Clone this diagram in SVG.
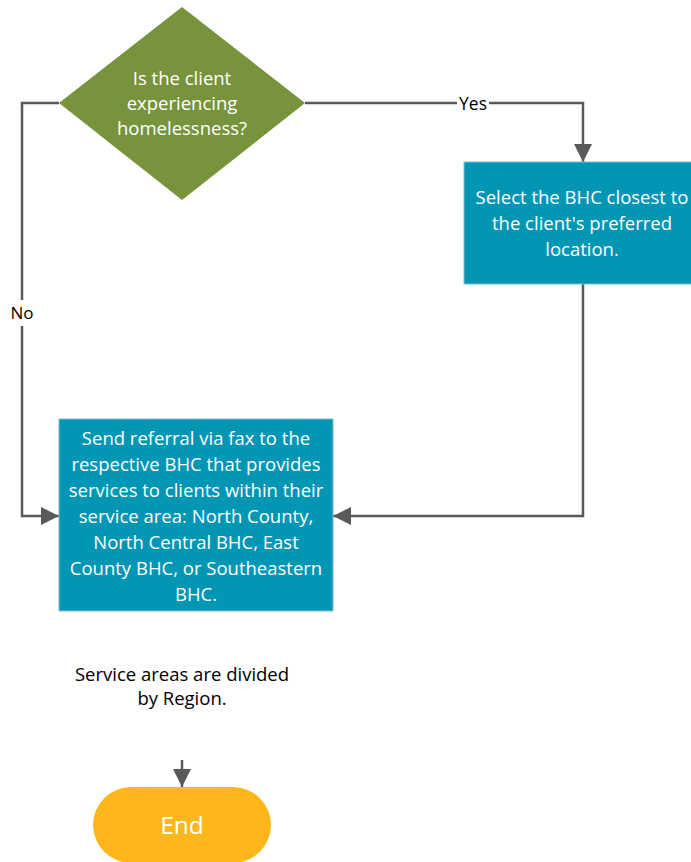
<svg xmlns="http://www.w3.org/2000/svg" width="691" height="862" viewBox="0 0 691 862">
<style>
.t{font-family:"Open Sans","Noto Sans","Liberation Sans",sans-serif;text-anchor:middle}
.w{fill:#ffffff}
.k{fill:#000000}
.ln{fill:none;stroke:#595959;stroke-width:2.5}
.box{fill:#0096B4;stroke:#7FBFD2;stroke-width:1}
</style>
<defs>
<marker id="ah" markerUnits="userSpaceOnUse" markerWidth="18" markerHeight="18" viewBox="0 0 18 18" refX="18" refY="9" orient="auto">
<path d="M0,0 L18,9 L0,18 Z" fill="#595959"/>
</marker>
</defs>
<rect width="691" height="862" fill="#ffffff"/>
<g id="connectors">
<path class="ln" d="M59,103 H22 V516 H59" marker-end="url(#ah)"/>
<path class="ln" d="M305,103 H583 V162" marker-end="url(#ah)"/>
<path class="ln" d="M583,284 V516 H333" marker-end="url(#ah)"/>
<path class="ln" d="M182,760 V787" marker-end="url(#ah)"/>
<rect x="9" y="300" width="26" height="26" fill="#ffffff"/>
<text class="t k" x="22" y="319" font-size="17">No</text>
<rect x="457" y="93" width="32" height="22" fill="#ffffff"/>
<text class="t k" x="473" y="110" font-size="17.5">Yes</text>
</g>
<g id="decision">
<polygon points="182,7 305,103 182,200 59,103" fill="#77933C"/>
<text class="t w" font-size="18.5"><tspan x="182" y="85">Is the client</tspan><tspan x="182" y="110">experiencing</tspan><tspan x="182" y="135">homelessness?</tspan></text>
</g>
<g id="select-bhc">
<rect class="box" x="464" y="162" width="238" height="122"/>
<text class="t w" font-size="18.5"><tspan x="582" y="204">Select the BHC closest to</tspan><tspan x="582" y="230">the client's preferred</tspan><tspan x="582" y="256">location.</tspan></text>
</g>
<g id="send-referral">
<rect class="box" x="59" y="419" width="274" height="192"/>
<text class="t w" font-size="18.5"><tspan x="196" y="445">Send referral via fax to the</tspan><tspan x="196" y="471">respective BHC that provides</tspan><tspan x="196" y="497">services to clients within their</tspan><tspan x="196" y="523">service area: North County,</tspan><tspan x="196" y="549">North Central BHC, East</tspan><tspan x="196" y="575">County BHC, or Southeastern</tspan><tspan x="196" y="601">BHC.</tspan></text>
</g>
<g id="note">
<text class="t k" font-size="18.5"><tspan x="182" y="681">Service areas are divided</tspan><tspan x="182" y="705">by Region.</tspan></text>
</g>
<g id="end">
<rect x="93" y="787" width="178" height="76" rx="38" ry="38" fill="#FDB71A"/>
<text class="t w" x="182" y="834" font-size="24.5">End</text>
</g>
</svg>
